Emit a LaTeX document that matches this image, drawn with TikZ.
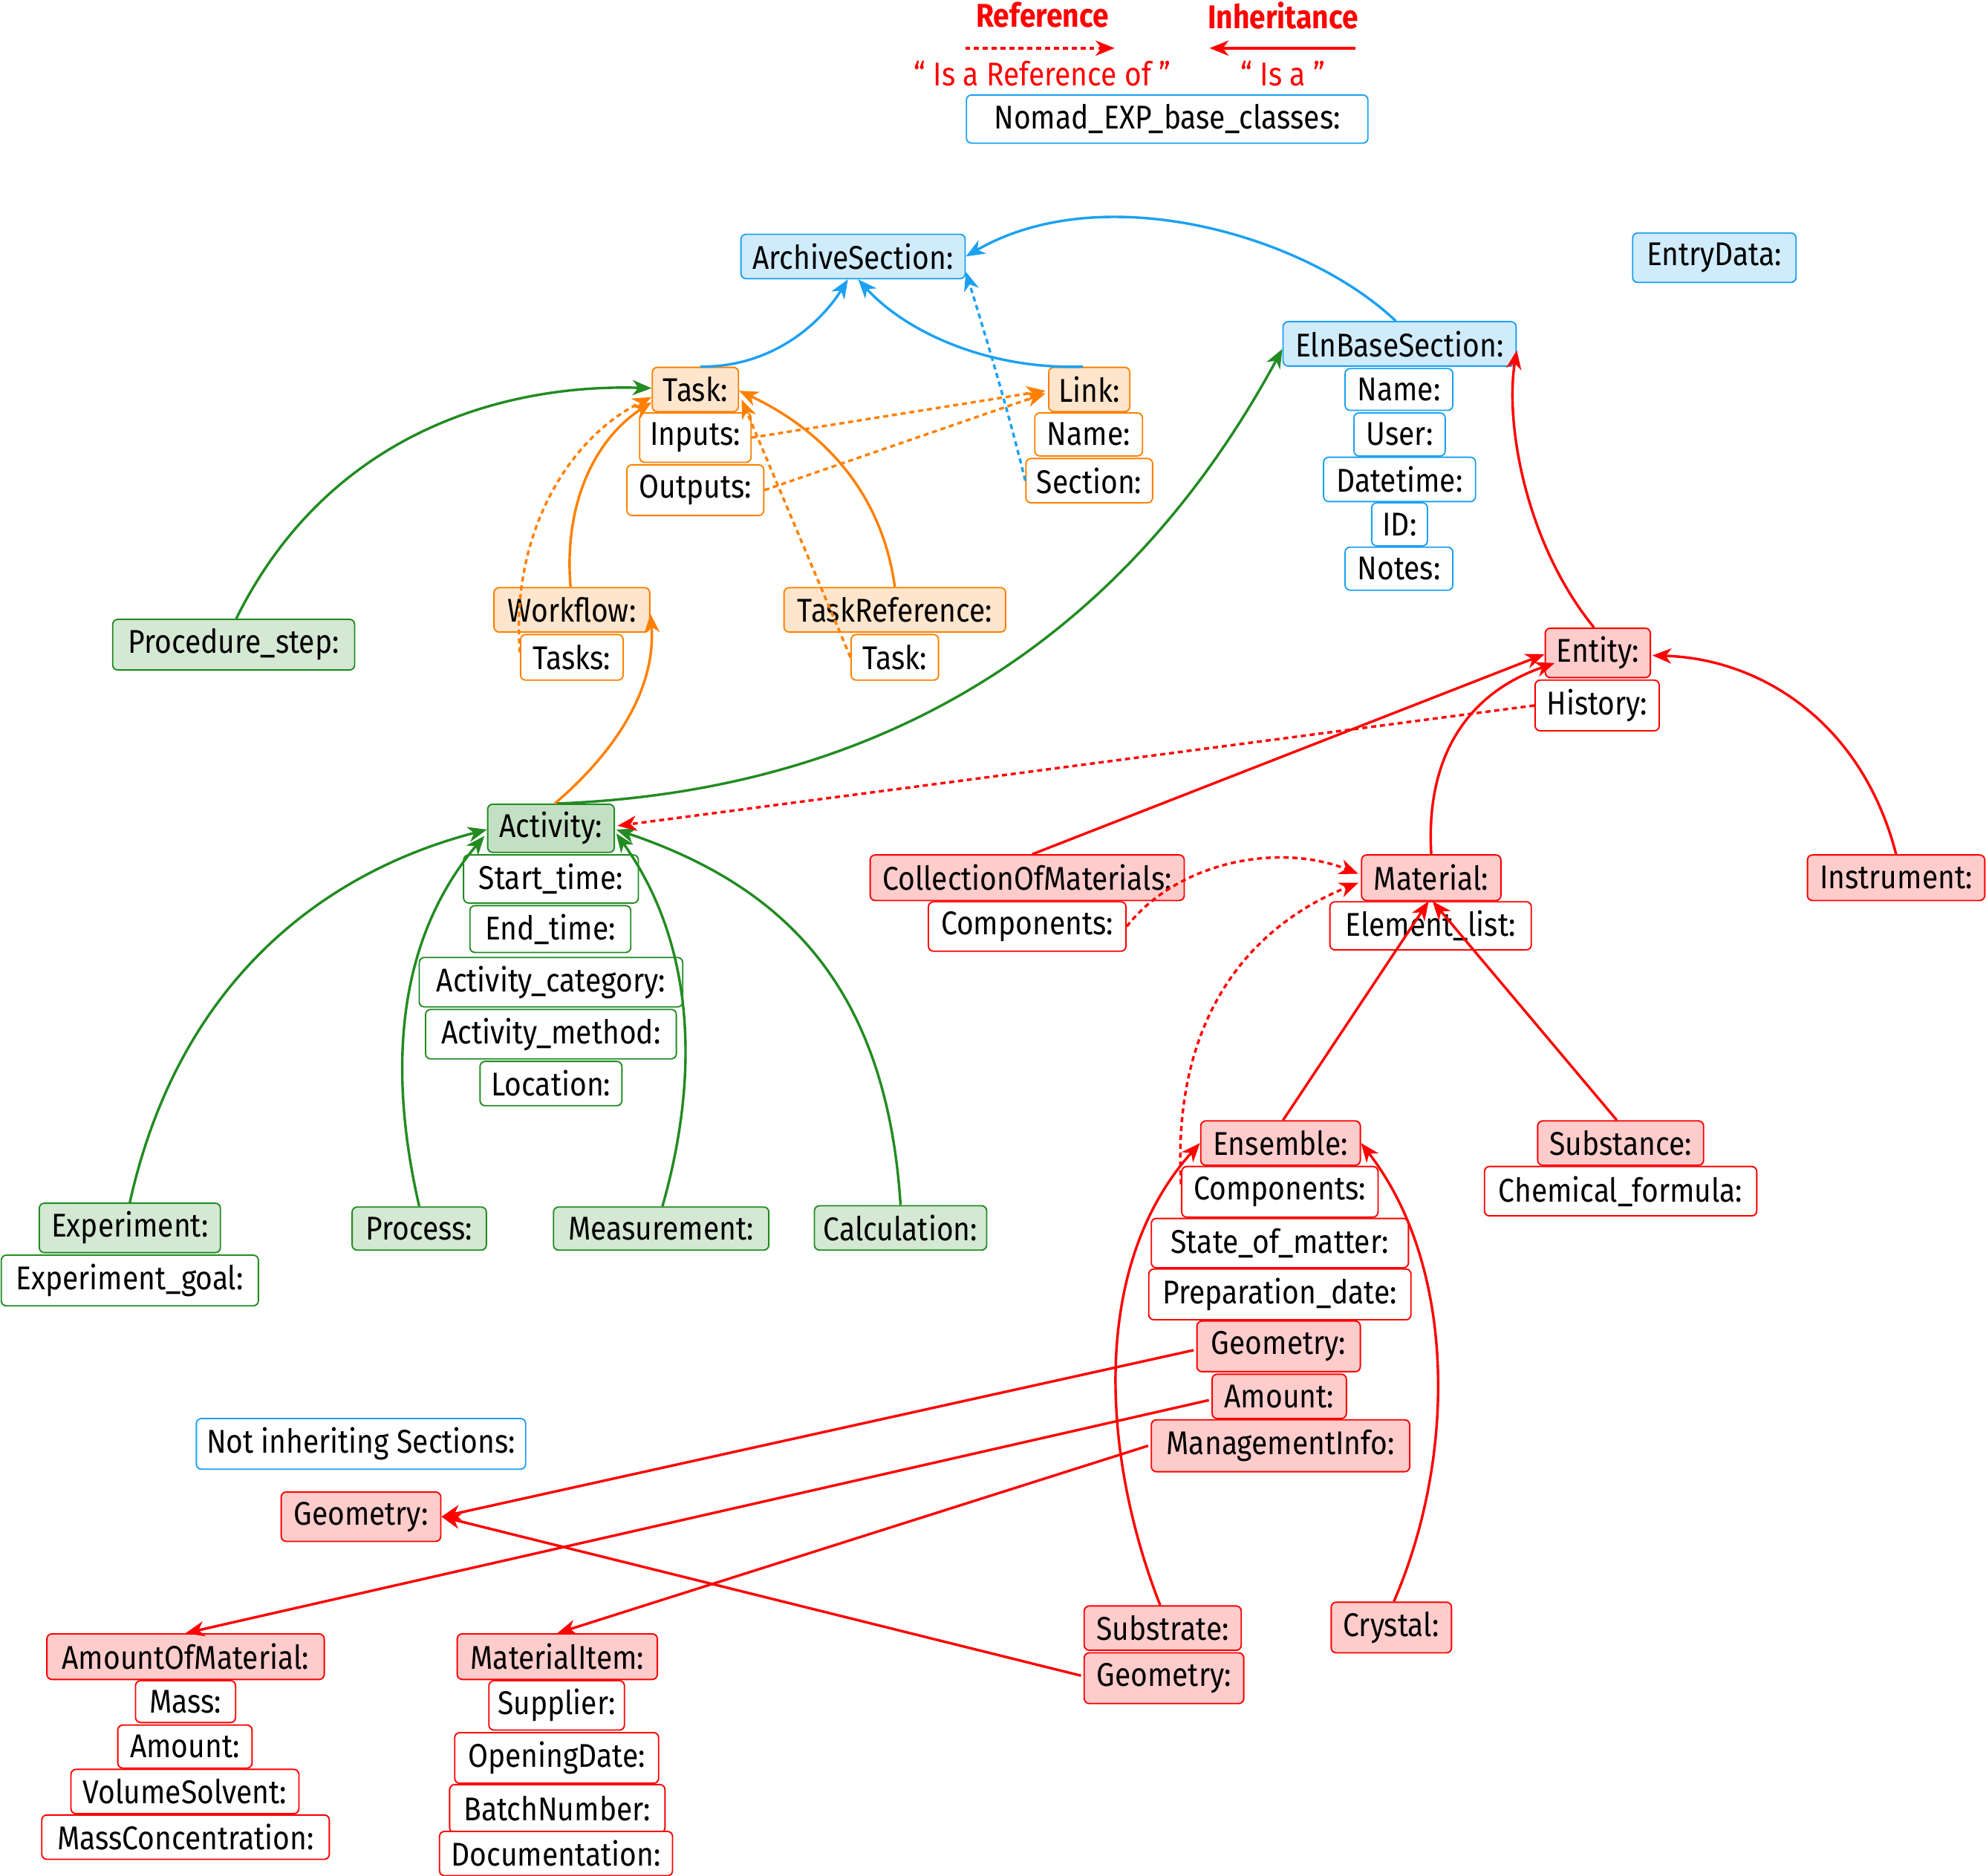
\documentclass[tikz,border=0pt]{standalone}
\usepackage{fontspec}
\setmainfont{Fira Sans}[FakeStretch=0.88]
\usetikzlibrary{arrows.meta}
\definecolor{cB}{RGB}{28,161,242}
\definecolor{cBf}{RGB}{208,236,252}
\definecolor{cO}{RGB}{255,128,0}
\definecolor{cOf}{RGB}{255,229,204}
\definecolor{cG}{RGB}{34,139,34}
\definecolor{cGf}{RGB}{196,224,196}
\definecolor{cGl}{RGB}{212,232,212}
\definecolor{cR}{RGB}{255,0,0}
\definecolor{cRf}{RGB}{255,204,204}
\tikzset{
  bx/.style={draw, rounded corners=4pt, line width=1.1pt, inner sep=0pt, text=black,
    font=\fontsize{26}{30}\selectfont},
  sz/.style 2 args={minimum width=#1pt, minimum height=#2pt},
  bM/.style={bx, draw=cB, fill=cBf}, bF/.style={bx, draw=cB, fill=white},
  oM/.style={bx, draw=cO, fill=cOf}, oF/.style={bx, draw=cO, fill=white},
  gM/.style={bx, draw=cG, fill=cGf}, gL/.style={bx, draw=cG, fill=cGl}, gF/.style={bx, draw=cG, fill=white},
  rM/.style={bx, draw=cR, fill=cRf}, rF/.style={bx, draw=cR, fill=white},
  arr/.style={-{Stealth[length=15pt,width=12pt,inset=4.5pt]}, line width=2pt},
  dotl/.style={dash pattern=on 4pt off 3pt},
  leg/.style={text=cR, inner sep=0pt, font=\fontsize{26}{30}\selectfont},
}
\begin{document}
\begin{tikzpicture}[x=1pt,y=-1pt]
\useasboundingbox (0,0) rectangle (1568,1481);
% legend
\node[leg, font=\fontsize{26}{30}\selectfont\bfseries] (refT) at (823,12) {Reference};
\node[leg, font=\fontsize{26}{30}\selectfont\bfseries] (inhT) at (1013,12) {Inheritance};
\node[leg] (refL) at (823,58) {“ Is a Reference of ”};
\node[leg] (inhL) at (1013,58) {“ Is a ”};
\coordinate (refA1) at (762,38);
\coordinate (refA2) at (880,38);
\coordinate (inhA1) at (1070,38);
\coordinate (inhA2) at (955,38);
\draw[arr, cR, dotl] (refA1) -- (refA2);
\draw[arr, cR] (inhA1) -- (inhA2);
\node[bF, sz={317}{38}] (nomad) at (921.5,94) {Nomad\_EXP\_base\_classes:};

% blue
\node[bM, sz={177}{35}] (archive) at (673.5,202.5) {ArchiveSection:};
\node[bM, sz={129}{39}] (entry) at (1353.5,203.5) {EntryData:};
\node[bM, sz={184}{35}] (eln) at (1105,271.5) {ElnBaseSection:};
\node[bF, sz={85}{33}] (elnName) at (1104.5,307.5) {Name:};
\node[bF, sz={72}{34}] (elnUser) at (1105,343) {User:};
\node[bF, sz={120}{35}] (elnDate) at (1105,378.5) {Datetime:};
\node[bF, sz={44}{34}] (elnID) at (1105,414) {ID:};
\node[bF, sz={85}{34}] (elnNotes) at (1104.5,449) {Notes:};

% orange
\node[oM, sz={68}{35}] (task) at (549,307.5) {Task:};
\node[oF, sz={88}{39}] (inputs) at (549,345.5) {Inputs:};
\node[oF, sz={108}{40}] (outputs) at (549,387) {Outputs:};
\node[oM, sz={64}{35}] (link) at (860,307.5) {Link:};
\node[oF, sz={85}{34}] (linkName) at (859.5,343) {Name:};
\node[oF, sz={100}{35}] (linkSection) at (860,379.5) {Section:};
\node[oM, sz={123}{35}] (workflow) at (451.5,481.5) {Workflow:};
\node[oF, sz={81}{36}] (tasks) at (451.5,519) {Tasks:};
\node[oM, sz={175}{35}] (taskref) at (706.5,481.5) {TaskReference:};
\node[oF, sz={69}{36}] (trTask) at (706.5,519) {Task:};

% green
\node[gL, sz={191}{40}] (proc) at (184.5,509) {Procedure\_step:};
\node[gM, sz={100}{38}] (activity) at (435,654) {Activity:};
\node[gF, sz={138}{38}] (startT) at (435,694) {Start\_time:};
\node[gF, sz={127}{37}] (endT) at (434.5,733.5) {End\_time:};
\node[gF, sz={208}{39}] (actCat) at (435,775.5) {Activity\_category:};
\node[gF, sz={198}{39}] (actMeth) at (435,816.5) {Activity\_method:};
\node[gF, sz={112}{35}] (loc) at (435,855.5) {Location:};
\node[gL, sz={143}{39}] (exper) at (102.5,969.5) {Experiment:};
\node[gF, sz={203}{40}] (expGoal) at (102.5,1011) {Experiment\_goal:};
\node[gL, sz={106}{34}] (process) at (331,970) {Process:};
\node[gL, sz={170}{34}] (meas) at (522,970) {Measurement:};
\node[gL, sz={136}{35}] (calc) at (711,969.5) {Calculation:};

% red
\node[rM, sz={83}{39}] (entity) at (1261.5,515.5) {Entity:};
\node[rF, sz={98}{40}] (history) at (1261,557) {History:};
\node[rM, sz={248}{36}] (coll) at (811,693) {CollectionOfMaterials:};
\node[rF, sz={156}{39}] (collComp) at (811,731.5) {Components:};
\node[rM, sz={110}{36}] (material) at (1130,693) {Material:};
\node[rF, sz={159}{38}] (elemList) at (1129.5,731) {Element\_list:};
\node[rM, sz={140}{36}] (instr) at (1497,693) {Instrument:};
\node[rM, sz={126}{35}] (ensemble) at (1011,902.5) {Ensemble:};
\node[rF, sz={155}{40}] (ensComp) at (1010.5,941) {Components:};
\node[rF, sz={203}{39}] (som) at (1010.5,981.5) {State\_of\_matter:};
\node[rF, sz={207}{40}] (prep) at (1010.5,1022) {Preparation\_date:};
\node[rM, sz={129}{40}] (ensGeom) at (1009.5,1063) {Geometry:};
\node[rM, sz={106}{35}] (ensAmount) at (1010,1102.5) {Amount:};
\node[rM, sz={204}{41}] (mgmt) at (1011,1141.5) {ManagementInfo:};
\node[rM, sz={131}{35}] (substance) at (1279.5,902.5) {Substance:};
\node[rF, sz={215}{39}] (chemF) at (1279.5,940.5) {Chemical\_formula:};
\node[bF, sz={260}{40}] (notInh) at (285,1140) {Not inheriting Sections:};
\node[rM, sz={126}{39}] (geomL) at (285,1197.5) {Geometry:};
\node[rM, sz={124}{35}] (substrate) at (918,1285.5) {Substrate:};
\node[rM, sz={126}{40}] (subGeom) at (919,1325) {Geometry:};
\node[rM, sz={95}{40}] (crystal) at (1098.5,1285) {Crystal:};
\node[rM, sz={219}{36}] (aom) at (146.5,1308) {AmountOfMaterial:};
\node[rF, sz={79}{33}] (mass) at (146.5,1343.5) {Mass:};
\node[rF, sz={106}{34}] (amount) at (146,1379) {Amount:};
\node[rF, sz={180}{35}] (volS) at (146,1414.5) {VolumeSolvent:};
\node[rF, sz={227}{35}] (massC) at (146.5,1450.5) {MassConcentration:};
\node[rM, sz={158}{36}] (matItem) at (440,1308) {MaterialItem:};
\node[rF, sz={107}{39}] (supplier) at (439.5,1346.5) {Supplier:};
\node[rF, sz={161}{40}] (openD) at (439.5,1388) {OpeningDate:};
\node[rF, sz={170}{38}] (batch) at (440,1428) {BatchNumber:};
\node[rF, sz={184}{35}] (doc) at (439,1463.5) {Documentation:};

% ---- blue edges
\draw[arr, cB] ([xshift=4pt]task.north) .. controls (610,290) and (648,255) .. ([xshift=-4pt]archive.south);
\draw[arr, cB] ([xshift=-5pt]link.north) .. controls (780,292) and (715,262) .. ([xshift=4pt]archive.south);
\draw[arr, cB] ([xshift=-3pt]eln.north) .. controls (1030,185) and (870,140) .. (archive.east);
\draw[arr, cB, dotl] (linkSection.west) .. controls (795,320) and (775,255) .. ([yshift=6pt]archive.south east);

% ---- orange edges
\draw[arr, cO] ([xshift=-1pt]workflow.north) .. controls (445,400) and (468,348) .. ([yshift=-10pt]task.west);
\draw[arr, cO, dotl] ([yshift=4pt]tasks.west) .. controls (403,420) and (450,345) .. ([yshift=-6pt]task.west);
\draw[arr, cO] (taskref.north) .. controls (695,380) and (640,335) .. ([yshift=-1pt]task.east);
\draw[arr, cO, dotl] (trTask.west) -- ([xshift=2pt,yshift=-8pt]task.east);
\draw[arr, cO, dotl] (inputs.east) -- ([xshift=-2pt,yshift=-1pt]link.west);
\draw[arr, cO, dotl] (outputs.east) -- ([xshift=-2pt,yshift=-3pt]link.west);
\draw[arr, cO] ([xshift=3pt]activity.north) .. controls (490,590) and (518,540) .. ([yshift=-3pt]workflow.east);

% ---- green edges
\draw[arr, cG] ([xshift=2pt]proc.north) .. controls (260,340) and (400,303) .. ([yshift=1pt]task.west);
\draw[arr, cG] ([xshift=5pt]activity.north) .. controls (680,625) and (880,520) .. ([yshift=-4pt]eln.west);
\draw[arr, cG] (exper.north) .. controls (140,780) and (250,690) .. ([yshift=-1pt]activity.west);
\draw[arr, cG] (process.north) .. controls (305,840) and (315,740) .. ([xshift=-2pt,yshift=-6pt]activity.west);
\draw[arr, cG] ([xshift=1pt]meas.north) .. controls (555,840) and (545,740) .. ([xshift=1pt,yshift=-4pt]activity.east);
\draw[arr, cG] (calc.north) .. controls (700,780) and (620,700) .. ([xshift=1pt,yshift=-1pt]activity.east);

% ---- red edges
\draw[arr, cR] ([xshift=-3pt]entity.north) .. controls (1205,430) and (1188,335) .. ([yshift=-5pt]eln.east);
\draw[arr, cR] ([xshift=4pt]coll.north) -- ([yshift=-1pt]entity.west);
\draw[arr, cR] (material.north) .. controls (1125,590) and (1165,545) .. ([xshift=8pt,yshift=12pt]entity.south west);
\draw[arr, cR] (instr.north) .. controls (1470,570) and (1390,520) .. ([xshift=1pt,yshift=-2pt]entity.east);
\draw[arr, cR, dotl] (history.west) -- ([xshift=2pt,yshift=2pt]activity.east);
\draw[arr, cR, dotl] (collComp.east) .. controls (930,680) and (1010,665) .. ([xshift=-2pt,yshift=3pt]material.west);
\draw[arr, cR, dotl] ([yshift=6pt]ensComp.west) .. controls (925,800) and (990,730) .. ([xshift=-2pt,yshift=-4pt]material.west);
\draw[arr, cR] ([xshift=2pt]ensemble.north) -- ([xshift=-2pt]material.south);
\draw[arr, cR] ([xshift=-3pt]substance.north) -- ([xshift=1pt]material.south);
\draw[arr, cR] ([xshift=-2pt]substrate.north) .. controls (870,1150) and (860,1000) .. (ensemble.west);
\draw[arr, cR] ([xshift=2pt]crystal.north) .. controls (1150,1150) and (1150,1000) .. (ensemble.east);
\draw[arr, cR] ([xshift=-2pt,yshift=-3pt]ensGeom.west) -- (geomL.east);
\draw[arr, cR] ([xshift=-2pt,yshift=2pt]subGeom.west) -- (geomL.east);
\draw[arr, cR] ([xshift=-2pt,yshift=-3pt]ensAmount.west) -- (aom.north);
\draw[arr, cR] ([xshift=-2pt]mgmt.west) -- (matItem.north);
\end{tikzpicture}
\end{document}
